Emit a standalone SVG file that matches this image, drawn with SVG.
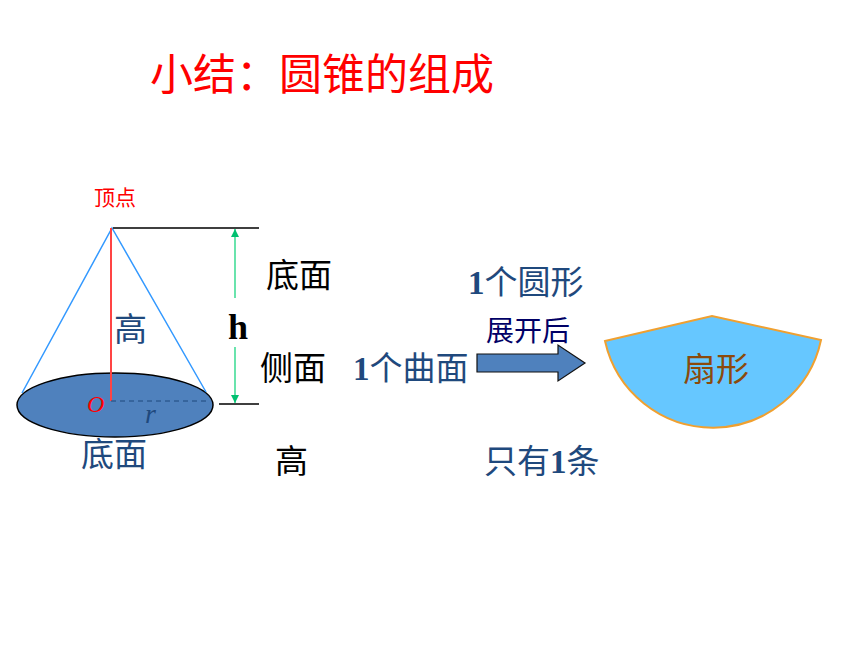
<svg xmlns="http://www.w3.org/2000/svg" width="860" height="645" viewBox="0 0 860 645">
<style>
text{font-family:"Liberation Serif","Noto Sans CJK SC",serif}
.zh{font-family:"Noto Sans CJK SC","Liberation Serif",sans-serif}
.k{fill:#000;font-size:33px}
.b{fill:#1f497d;font-size:33px}
.n{font-weight:bold}
</style>
<defs>
<marker id="ah" markerWidth="6" markerHeight="6" refX="5" refY="2.5" orient="auto"><path d="M0 0L5 2.5L0 5Z" fill="#00c070"/></marker>
</defs>
<rect width="860" height="645" fill="#fff"/>
<text id="title" x="150" y="90" class="zh" font-size="43" fill="#f00">小结：圆锥的组成</text>
<g id="cone">
<ellipse cx="115" cy="405" rx="98" ry="32" fill="#4f81bd" stroke="#000" stroke-width="1.5"/>
</g>
<g id="connectors" fill="none">
<path d="M22 393L112 228L206 392" stroke="#3399ff" stroke-width="1.5"/>
<path d="M111 228V401" stroke="#ff4444" stroke-width="2"/>
<path d="M111 401H206" stroke="#1f497d" stroke-width="1" stroke-dasharray="5 4"/>
<path d="M113 228H259M219 404H259" stroke="#000" stroke-width="1.4"/>
<path d="M235 298V229" stroke="#44dd99" stroke-width="1.6" marker-end="url(#ah)"/>
<path d="M235 347V403" stroke="#44dd99" stroke-width="1.6" marker-end="url(#ah)"/>
</g>
<g id="arrow"><path d="M477 354H558V345L585 363L558 381V372H477Z" fill="#4f81bd" stroke="#111" stroke-width="1.2"/></g>
<g id="sector"><path d="M605 341L712 316L821 340A110.5 110.5 0 0 1 605 341Z" fill="#66c7ff" stroke="#f0a030" stroke-width="2"/>
<text x="683" y="381" class="zh" font-size="33" fill="#8b4a0c">扇形</text></g>
<g id="labels">
<text x="94" y="205" class="zh" font-size="21" fill="#f00">顶点</text>
<text x="114" y="341" class="zh b">高</text>
<text x="228" y="339" class="n" font-size="36" fill="#000">h</text>
<text x="87" y="412" font-size="24" font-style="italic" fill="#f00">O</text>
<text x="145" y="423" font-size="28" font-style="italic" fill="#1f497d">r</text>
<text x="81" y="466" class="zh b">底面</text>
<text x="266" y="287" class="zh k">底面</text>
<text x="260" y="380" class="zh k">侧面</text>
<text x="275" y="473" class="zh k">高</text>
<text x="468" y="294" class="b"><tspan class="n">1</tspan><tspan class="zh">个圆形</tspan></text>
<text x="353" y="380" class="b"><tspan class="n">1</tspan><tspan class="zh">个曲面</tspan></text>
<text x="486" y="341" class="zh" font-size="28" fill="#000066">展开后</text>
<text x="484" y="473" class="b"><tspan class="zh">只有</tspan><tspan class="n">1</tspan><tspan class="zh">条</tspan></text>
</g>
</svg>
